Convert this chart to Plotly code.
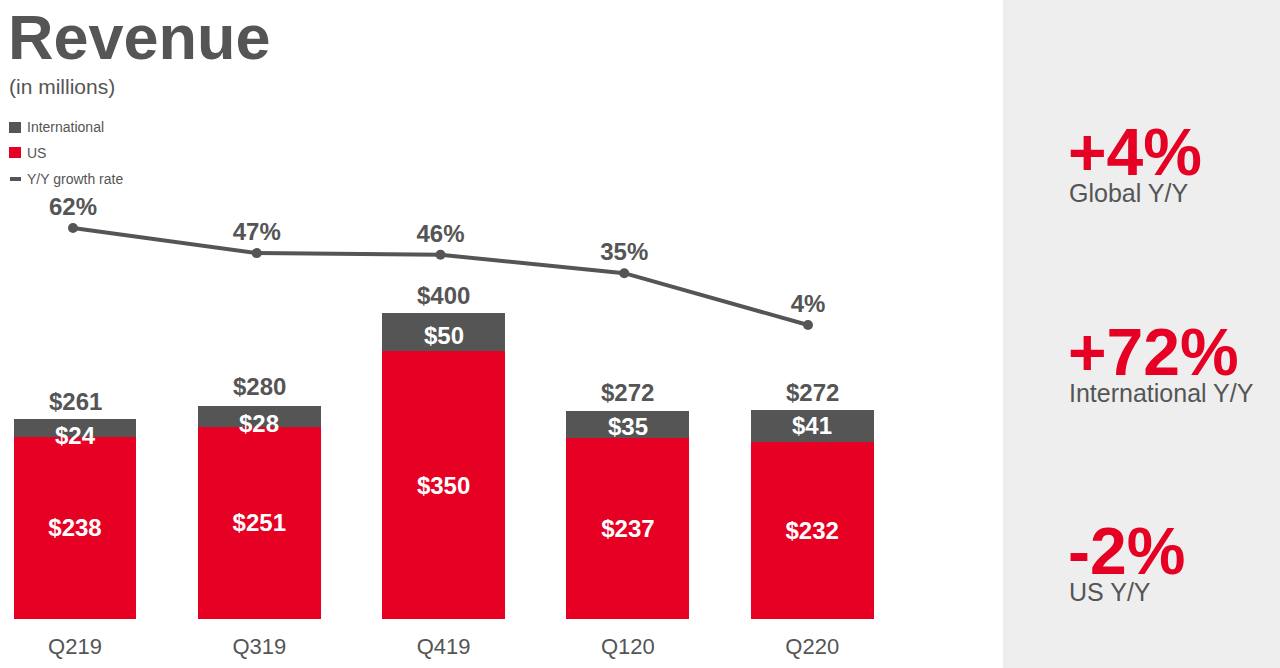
import plotly.graph_objects as go

quarters = ["Q219", "Q319", "Q419", "Q120", "Q220"]
us = [238, 251, 350, 237, 232]
intl = [24, 28, 50, 35, 41]
totals = [261, 280, 400, 272, 272]
growth = [62, 47, 46, 35, 4]
kpi_values = ["+4%", "+72%", "-2%"]
kpi_labels = ["Global Y/Y", "International Y/Y", "US Y/Y"]
legend_labels = ["International", "US", "Y/Y growth rate"]

RED = "#e60023"
GREY = "#555555"
FONT = "Liberation Sans"
W, H = 1280, 668
BASE = 619  # pixel row of the bar baseline

# the labels of the thin grey segments sit a little below their centre
intl_label_shift = [-8, -7, -3, -2, 0]

fig = go.Figure()
fig.add_trace(go.Bar(
    x=quarters, y=us, name="US", marker=dict(color=RED, line_width=0), width=0.667,
    text=[f"<b>${v}</b>" for v in us], textposition="inside", insidetextanchor="middle",
    constraintext="none", textangle=0,
    textfont=dict(color="white", size=24, family=FONT),
))
fig.add_trace(go.Bar(
    x=quarters, y=intl, name="International", marker=dict(color=GREY, line_width=0), width=0.667,
))
fig.add_trace(go.Scatter(
    x=quarters, y=growth, name="Y/Y growth rate", mode="lines+markers+text",
    text=[f"<b>{v}%</b>" for v in growth], textposition="top center",
    textfont=dict(color=GREY, size=24, family=FONT),
    line=dict(color=GREY, width=4), marker=dict(color=GREY, size=10),
    xaxis="x2", yaxis="y2",
))

fig.update_layout(
    width=W, height=H, autosize=False, paper_bgcolor="white", plot_bgcolor="rgba(0,0,0,0)",
    margin=dict(l=0, r=0, t=0, b=0), barmode="stack", showlegend=False,
    font=dict(family=FONT, color=GREY),
    xaxis=dict(domain=[0, 1003 / W], range=[-75 / 184.3, 928 / 184.3], tickfont=dict(size=22, color=GREY),
               showgrid=False, showline=False, ticks="outside", ticklen=8, tickcolor="rgba(0,0,0,0)",
               zeroline=False),
    xaxis2=dict(domain=[0, 1003 / W], range=[-73 / 183.75, 930 / 183.75], overlaying="x", visible=False),
    yaxis=dict(domain=[1 - BASE / H, 1], range=[0, BASE / 0.765], visible=False),
    yaxis2=dict(domain=[1 - BASE / H, 1], range=[-287.3 / 1.672, 331.7 / 1.672], overlaying="y", visible=False),
)


def px_rect(x0, x1, y0, y1, color, layer="above"):
    fig.add_shape(type="rect", xref="paper", yref="paper", x0=x0 / W, x1=x1 / W, y0=1 - y1 / H, y1=1 - y0 / H,
                  fillcolor=color, line_width=0, layer=layer)


def note(x, y, text, size, color=GREY):
    fig.add_annotation(xref="paper", yref="paper", x=x / W, y=1 - y / H, text=text, showarrow=False,
                       xanchor="left", yanchor="middle", font=dict(size=size, color=color, family=FONT))


px_rect(1003, W, 0, H, "#eeeeee", layer="below")
px_rect(9, 21, 122, 133, GREY)
px_rect(9, 21, 147, 158, RED)
px_rect(10, 21, 177, 181, GREY)

for q, u, i, t, shift in zip(quarters, us, intl, totals, intl_label_shift):
    fig.add_annotation(x=q, y=u + i / 2, text=f"<b>${i}</b>", showarrow=False, yshift=shift,
                       font=dict(size=24, color="white", family=FONT))
    fig.add_annotation(x=q, y=t, text=f"<b>${t}</b>", showarrow=False, yshift=18,
                       font=dict(size=24, color=GREY, family=FONT))

note(6, 37, "<b>Revenue</b>", 63)
note(7, 87, "(in millions)", 21)
for label, y in zip(legend_labels, [127, 153, 179]):
    note(25, y, label, 14)

for value, label, y in zip(kpi_values, kpi_labels, [152, 352, 551]):
    note(1066, y, f"<b>{value}</b>", 66, RED)
    note(1067, y + 41, label, 25)

fig.write_html("out.html", config=dict(displayModeBar=False), post_script="document.body.style.margin = '0';")
